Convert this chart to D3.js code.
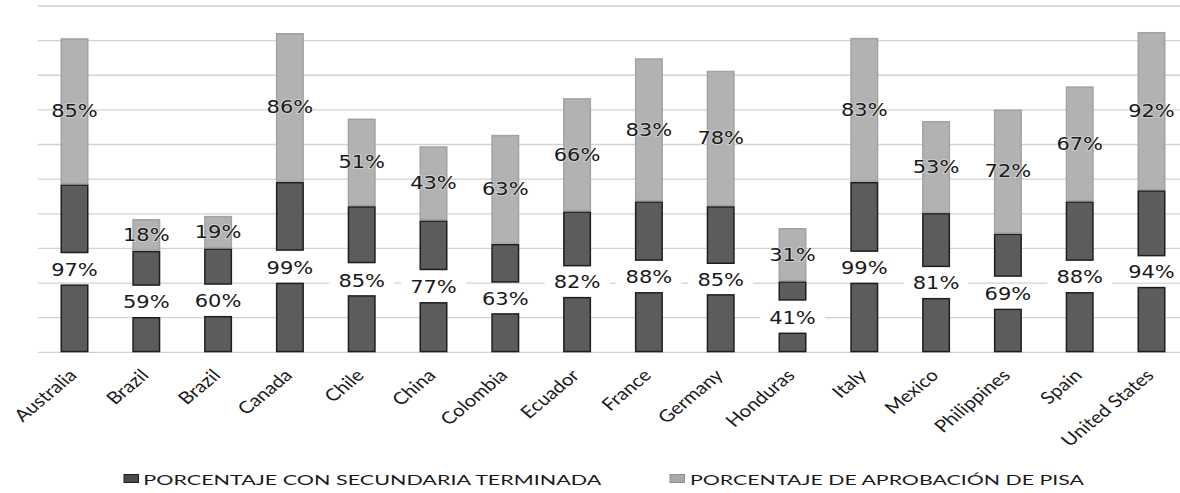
<!DOCTYPE html>
<html>
<head>
<meta charset="utf-8">
<script src="https://cdn.jsdelivr.net/npm/d3@7/dist/d3.min.js"></script>
<style>
  html, body { margin: 0; padding: 0; background: #ffffff; }
  svg { display: block; }
</style>
</head>
<body>
<svg id="chart" width="1180" height="493"></svg>
<script>
// ---- data ----
const countries = ["Australia","Brazil","Brazil","Canada","Chile","China","Colombia","Ecuador","France","Germany","Honduras","Italy","Mexico","Philippines","Spain","United States"];
// label values (%)
const secLabels  = [97,59,60,99,85,77,63,82,88,85,41,99,81,69,88,94];
const pisaLabels = [85,18,19,86,51,43,63,66,83,78,31,83,53,72,67,92];
// drawn segment heights, in the chart's value-axis units (10 per gridline)
const secBar   = [19.6,10.2,10.5,20.1,16.5,14.5,11.3,16.0,17.4,16.8,5.7,20.1,15.7,12.6,17.4,18.9];
const gapBar   = [9.0,9.0,9.0,9.2,9.2,9.2,8.8,8.8,9.0,8.7,9.2,8.9,8.9,9.2,9.0,8.8];
const secBar2  = [19.9,10.1,10.5,19.9,16.5,14.4,11.2,15.9,17.2,16.7,5.6,20.2,15.6,12.5,17.2,19.1];
const pisaBar  = [42.2,9.2,9.4,43.0,25.3,21.4,31.5,32.7,41.3,39.1,15.4,41.6,26.6,35.8,33.2,45.7];
const yTicks   = [0,10,20,30,40,50,60,70,80,90,100];
const legendLabels = ["PORCENTAJE CON SECUNDARIA TERMINADA", "PORCENTAJE DE APROBACIÓN DE PISA"];

// ---- layout ----
const svg = d3.select("#chart");
const plotLeft = 38.6, plotRight = 1187.4, plotBottom = 352.3, plotTop = 6;
const STRETCH = 1.2;

const rows = countries.map((c, i) => ({
  idx: String(i), name: c,
  sec: secBar[i], gap: gapBar[i], sec2: secBar2[i], pisa: pisaBar[i],
  secLabel: secLabels[i], pisaLabel: pisaLabels[i]
}));

const x = d3.scaleBand()
  .domain(rows.map(d => d.idx))
  .range([plotLeft, plotRight])
  .paddingInner(0.61)
  .paddingOuter(0.305);

const y = d3.scaleLinear().domain([0, 100]).range([plotBottom, plotTop]);

const stack = d3.stack().keys(["sec","gap","sec2","pisa"]);
const series = stack(rows);

// gridlines
svg.append("g").selectAll("line")
  .data(yTicks)
  .join("line")
  .attr("x1", 38).attr("x2", 1180)
  .attr("y1", d => y(d)).attr("y2", d => y(d))
  .attr("stroke", "#d2d2d2")
  .attr("stroke-width", 1.3);

// bars
const fills = { sec: "#5c5c5c", sec2: "#5c5c5c", pisa: "#b2b2b2" };
const strokes = { sec: "#1e1e1e", sec2: "#1e1e1e", pisa: "#a2a2a2" };
series.filter(s => s.key !== "gap").forEach(s => {
  svg.append("g").selectAll("rect")
    .data(s)
    .join("rect")
    .attr("x", d => x(d.data.idx) + 0.75)
    .attr("width", x.bandwidth() - 1.5)
    .attr("y", d => y(d[1]) + 0.75)
    .attr("height", d => Math.max(0, y(d[0]) - y(d[1]) - 1.5))
    .attr("fill", fills[s.key])
    .attr("stroke", strokes[s.key])
    .attr("stroke-width", 1.5);
});

// secundaria labels (white background, above the bottom bar)
const secSeries = series.find(s => s.key === "sec");
const secG = svg.append("g");
secSeries.forEach(d => {
  const cx = x(d.data.idx) + x.bandwidth() / 2;
  const cy = y(d[1]) - 14.5;
  const g = secG.append("g").attr("transform", `translate(${cx},${cy}) scale(${STRETCH},1)`);
  g.append("rect").attr("x", -27).attr("y", -10).attr("width", 54).attr("height", 20).attr("fill", "#ffffff");
  g.append("text")
    .attr("text-anchor", "middle")
    .attr("dominant-baseline", "central")
    .attr("font-family", "DejaVu Sans, Verdana, sans-serif")
    .attr("font-size", 17.5)
    .attr("fill", "#1a1a1a")
    .text(d.data.secLabel + "%");
});

// PISA labels (centered in light segment)
const pisaSeries = series.find(s => s.key === "pisa");
svg.append("g").selectAll("text")
  .data(pisaSeries)
  .join("text")
  .attr("transform", d => `translate(${x(d.data.idx) + x.bandwidth()/2},${(y(d[0]) + y(d[1]))/2}) scale(${STRETCH},1)`)
  .attr("text-anchor", "middle")
  .attr("dominant-baseline", "central")
  .attr("font-family", "DejaVu Sans, Verdana, sans-serif")
  .attr("font-size", 17.5)
  .attr("fill", "#1a1a1a")
  .attr("stroke", "#ffffff")
  .attr("stroke-width", 2)
  .attr("stroke-opacity", 0.35)
  .attr("paint-order", "stroke")
  .text(d => d.data.pisaLabel + "%");

// category axis labels (rotated)
svg.append("g").selectAll("text")
  .data(rows)
  .join("text")
  .attr("transform", d => `translate(${x(d.idx) + x.bandwidth()/2 + 3.5},376.5) scale(${STRETCH},1) rotate(-45)`)
  .attr("text-anchor", "end")
  .attr("font-family", "Lato, Calibri, sans-serif")
  .attr("font-size", 17)
  .attr("fill", "#1a1a1a")
  .text(d => d.name);

// legend
const legendItems = [
  { label: legendLabels[0], fill: "#4a4a4a", stroke: "#1e1e1e", rx: 124, tx: 143.3, tlen: 458 },
  { label: legendLabels[1], fill: "#a9a9a9", stroke: "#8f8f8f", rx: 670, tx: 690, tlen: 394 }
];
const lg = svg.append("g");
legendItems.forEach(it => {
  lg.append("rect").attr("x", it.rx).attr("y", 474.5).attr("width", 14.5).attr("height", 8)
    .attr("fill", it.fill).attr("stroke", it.stroke).attr("stroke-width", 1);
  lg.append("text")
    .attr("x", it.tx).attr("y", 484.5)
    .attr("font-family", "Lato, Calibri, sans-serif")
    .attr("font-size", 14)
    .attr("fill", "#1a1a1a")
    .attr("textLength", it.tlen)
    .attr("lengthAdjust", "spacingAndGlyphs")
    .text(it.label);
});
</script>
</body>
</html>
